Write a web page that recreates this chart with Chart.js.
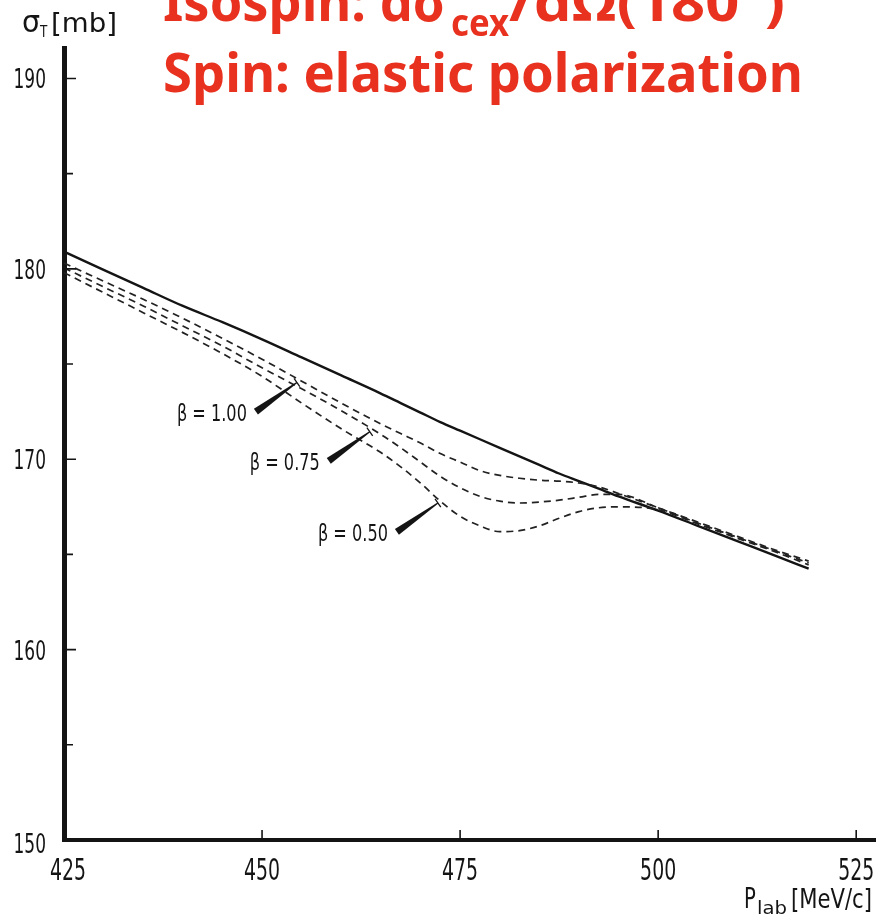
<!DOCTYPE html>
<html>
<head>
<meta charset="utf-8">
<script src="https://cdn.jsdelivr.net/npm/chart.js@4.4.1/dist/chart.umd.min.js"></script>
<style>
  html, body { margin: 0; padding: 0; background: #fff; overflow: hidden; }
  canvas { display: block; }
</style>
</head>
<body>
<canvas id="chart" width="876" height="917"></canvas>
<script>
// Total cross section vs. lab momentum (mb), smooth curve and three beta variants
const pLab = [425, 430, 435, 440, 445, 450, 455, 460, 465, 467.5, 470, 472.5, 475, 477.5,
              480, 482.5, 485, 487.5, 490, 492.5, 495, 500, 505, 510, 515, 519];
const sigmaTotal = [180.9, 179.95, 179.0, 178.05, 177.2, 176.3, 175.35, 174.4, 173.45, 172.95,
                    172.45, 171.95, 171.5, 171.05, 170.6, 170.15, 169.7, 169.25, 168.85, 168.45,
                    168.05, 167.3, 166.5, 165.7, 164.9, 164.25];
const sigmaBeta100 = [180.3, 179.35, 178.4, 177.4, 176.35, 175.25, 174.1, 172.95, 171.85, 171.35,
                      170.85, 170.3, 169.85, 169.4, 169.15, 169.0, 168.9, 168.85, 168.75, 168.55,
                      168.2, 167.45, 166.7, 165.95, 165.2, 164.65];
const sigmaBeta075 = [180.05, 179.05, 178.05, 177.0, 175.95, 174.8, 173.7, 172.55, 171.3, 170.6,
                      169.85, 169.1, 168.5, 168.05, 167.8, 167.7, 167.75, 167.85, 168.0, 168.15,
                      168.15, 167.45, 166.65, 165.9, 165.15, 164.55];
const sigmaBeta050 = [179.8, 178.75, 177.7, 176.65, 175.55, 174.35, 172.95, 171.6, 170.35, 169.6,
                      168.75, 167.8, 167.0, 166.5, 166.2, 166.25, 166.5, 166.9, 167.25, 167.45,
                      167.5, 167.35, 166.6, 165.85, 165.1, 164.45];

const xTicks = [425, 450, 475, 500, 525];
const yTicks = [150, 160, 170, 180, 190];
const yMinorTicks = [155, 165, 175, 185];

const betaLabels = ['β = 1.00', 'β = 0.75', 'β = 0.50'];
const betaPointerP = [454.4, 463.6, 472.2];

const betaSeries = [sigmaBeta100, sigmaBeta075, sigmaBeta050];

const FACE = "'DejaVu Sans', 'Liberation Sans', sans-serif";
const INK = '#141414';
const RED = '#e8321f';

function toPoints(ys) {
  return pLab.map((p, i) => ({ x: p, y: ys[i] }));
}

function interpAt(ys, p) {
  for (let i = 0; i < pLab.length - 1; i++) {
    if (p >= pLab[i] && p <= pLab[i + 1]) {
      const t = (p - pLab[i]) / (pLab[i + 1] - pLab[i]);
      return ys[i] + t * (ys[i + 1] - ys[i]);
    }
  }
  return ys[ys.length - 1];
}

// Draw text squeezed horizontally by a factor; align: 0 left, 0.5 centre, 1 right
function narrowText(ctx, str, x, baseline, squeeze, align) {
  const w = ctx.measureText(str).width * squeeze;
  ctx.save();
  ctx.translate(x - w * (align || 0), baseline);
  ctx.scale(squeeze, 1);
  ctx.textAlign = 'left';
  ctx.fillText(str, 0, 0);
  ctx.restore();
}

// Draw text squeezed or stretched to a given width
function fitText(ctx, str, x, baseline, width) {
  const w = ctx.measureText(str).width;
  ctx.save();
  ctx.translate(x, baseline);
  ctx.scale(width / w, 1);
  ctx.textAlign = 'left';
  ctx.fillText(str, 0, 0);
  ctx.restore();
}

const dashedStyle = {
  borderColor: '#222',
  borderWidth: 1.7,
  borderDash: [7, 5],
  pointRadius: 0,
  cubicInterpolationMode: 'monotone',
  fill: false
};

const decorations = {
  id: 'decorations',
  afterDatasetsDraw(chart) {
    const { ctx, chartArea: a, scales: { x, y } } = chart;
    ctx.save();
    ctx.textBaseline = 'alphabetic';

    // inward tick marks
    ctx.strokeStyle = INK;
    ctx.lineWidth = 1.6;
    ctx.beginPath();
    xTicks.forEach(v => {
      if (v === x.min) return;
      const px = x.getPixelForValue(v);
      ctx.moveTo(px, a.bottom);
      ctx.lineTo(px, a.bottom - 10);
    });
    yTicks.forEach(v => {
      if (v === y.min) return;
      const py = y.getPixelForValue(v);
      ctx.moveTo(a.left, py);
      ctx.lineTo(a.left + 12, py);
    });
    yMinorTicks.forEach(v => {
      const py = y.getPixelForValue(v);
      ctx.moveTo(a.left, py);
      ctx.lineTo(a.left + 9, py);
    });
    ctx.stroke();

    // tick labels
    ctx.fillStyle = INK;
    ctx.font = `30px ${FACE}`;
    xTicks.forEach(v => {
      const px = x.getPixelForValue(v) + (v === x.min ? 4 : 0);
      narrowText(ctx, String(v), px, 880, 0.63, 0.5);
    });
    ctx.font = `27px ${FACE}`;
    yTicks.forEach(v => {
      const py = y.getPixelForValue(v);
      narrowText(ctx, String(v), 46, py + 10 + (v === y.min ? 3 : 0), 0.63, 1);
    });

    // beta labels with wedge pointers
    betaLabels.forEach((label, i) => {
      const p = betaPointerP[i];
      const tx = x.getPixelForValue(p);
      const ty = y.getPixelForValue(interpAt(betaSeries[i], p)) + 4;
      const bx = tx - 41, by = ty + 29;
      const len = Math.hypot(tx - bx, ty - by);
      const nx = -(ty - by) / len, ny = (tx - bx) / len;
      ctx.fillStyle = INK;
      ctx.beginPath();
      ctx.moveTo(bx + nx * 3.5, by + ny * 3.5);
      ctx.lineTo(tx + nx * 0.6, ty + ny * 0.6);
      ctx.lineTo(tx - nx * 0.6, ty - ny * 0.6);
      ctx.lineTo(bx - nx * 3.5, by - ny * 3.5);
      ctx.closePath();
      ctx.fill();
      ctx.lineWidth = 1.3;
      ctx.beginPath();
      ctx.moveTo(tx + nx * 5, ty + ny * 5);
      ctx.lineTo(tx - nx * 5, ty - ny * 5);
      ctx.stroke();

      ctx.font = `23px ${FACE}`;
      fitText(ctx, label, bx - 79, by + 9, 70);
    });

    // axis titles
    ctx.fillStyle = INK;
    ctx.font = `30px ${FACE}`;
    narrowText(ctx, 'σ', 22, 32, 0.95, 0);
    ctx.font = `15px ${FACE}`;
    narrowText(ctx, 'T', 40, 37, 0.8, 0);
    ctx.font = `27px ${FACE}`;
    fitText(ctx, '[mb]', 51, 32, 66);

    ctx.font = `28px ${FACE}`;
    narrowText(ctx, 'P', 744, 908, 0.7, 0);
    ctx.font = `18px ${FACE}`;
    fitText(ctx, 'lab', 757, 914, 30);
    ctx.font = `27px ${FACE}`;
    fitText(ctx, '[MeV/c]', 791, 908, 81);

    // red heading lines
    ctx.fillStyle = RED;
    ctx.font = `bold 54px 'Noto Sans', 'Open Sans', sans-serif`;
    fitText(ctx, 'Isospin: dσ', 163, 21, 284);
    fitText(ctx, '/dΩ(180°)', 509, 21, 276);
    ctx.font = `bold 38px 'Noto Sans', 'Open Sans', sans-serif`;
    fitText(ctx, 'cex', 451, 36, 58);
    ctx.font = `bold 54px 'Noto Sans', 'Open Sans', sans-serif`;
    fitText(ctx, 'Spin: elastic polarization', 163, 92, 640);

    ctx.restore();
  }
};

new Chart(document.getElementById('chart'), {
  type: 'line',
  data: {
    datasets: [
      { label: 'β = 1.00', data: toPoints(sigmaBeta100), ...dashedStyle },
      { label: 'β = 0.75', data: toPoints(sigmaBeta075), ...dashedStyle },
      { label: 'β = 0.50', data: toPoints(sigmaBeta050), ...dashedStyle },
      {
        label: 'σT',
        data: toPoints(sigmaTotal),
        borderColor: INK,
        borderWidth: 2.4,
        pointRadius: 0,
        cubicInterpolationMode: 'monotone',
        fill: false
      }
    ]
  },
  options: {
    responsive: false,
    animation: false,
    devicePixelRatio: 1,
    layout: { autoPadding: false, padding: { top: 48, right: 0, bottom: 0, left: 0 } },
    plugins: { legend: { display: false }, tooltip: { enabled: false } },
    scales: {
      x: {
        type: 'linear',
        min: 425,
        max: 527.5,
        afterBuildTicks: s => { s.ticks = xTicks.map(v => ({ value: v })); },
        afterFit: s => { s.height = 77; },
        grid: { display: false, drawTicks: false, tickLength: 0 },
        border: { display: true, width: 4, color: INK },
        ticks: { display: false }
      },
      y: {
        type: 'linear',
        min: 150,
        max: 191.6,
        afterBuildTicks: s => { s.ticks = yTicks.map(v => ({ value: v })); },
        afterFit: s => { s.width = 64; },
        grid: { display: false, drawTicks: false, tickLength: 0 },
        border: { display: true, width: 5, color: INK },
        ticks: { display: false }
      }
    }
  },
  plugins: [decorations]
});
</script>
</body>
</html>
